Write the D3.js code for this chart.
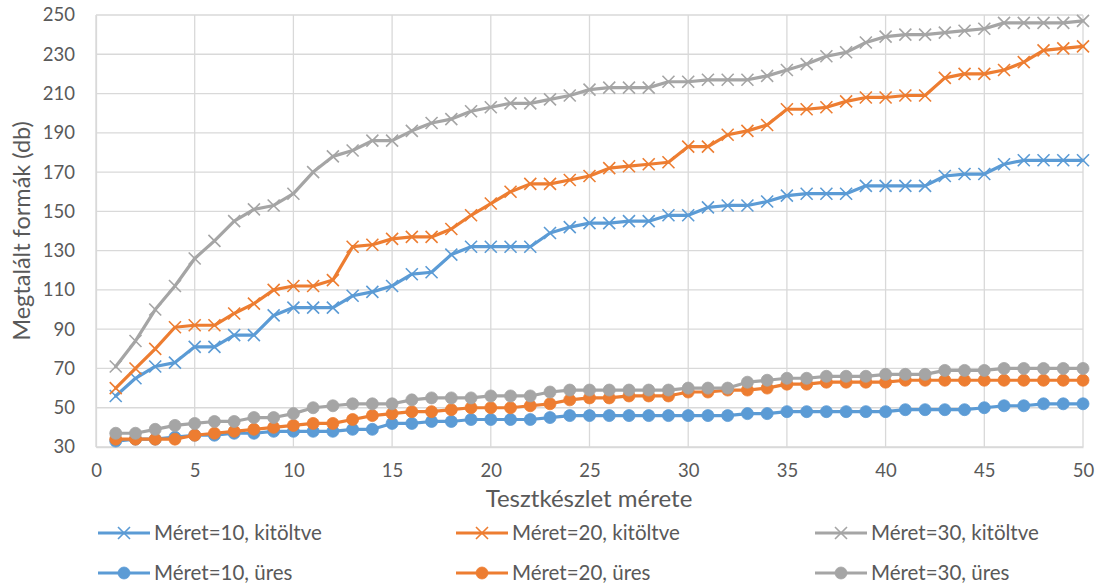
<!DOCTYPE html>
<html>
<head>
<meta charset="utf-8">
<script src="https://cdn.jsdelivr.net/npm/d3@7"></script>
<style>
html,body{margin:0;padding:0;background:#fff;}
svg{display:block;}
text{font-family:Lato,"Open Sans",sans-serif;fill:#595959;}
</style>
</head>
<body>
<svg id="chart" width="1099" height="586"></svg>
<script>
const xValues = [1,2,3,4,5,6,7,8,9,10,11,12,13,14,15,16,17,18,19,20,21,22,23,24,25,26,27,28,29,30,31,32,33,34,35,36,37,38,39,40,41,42,43,44,45,46,47,48,49,50];
const m10kitoltve = [56,65,71,73,81,81,87,87,97,101,101,101,107,109,112,118,119,128,132,132,132,132,139,142,144,144,145,145,148,148,152,153,153,155,158,159,159,159,163,163,163,163,168,169,169,174,176,176,176,176];
const m20kitoltve = [60,70,80,91,92,92,98,103,110,112,112,115,132,133,136,137,137,141,148,154,160,164,164,166,168,172,173,174,175,183,183,189,191,194,202,202,203,206,208,208,209,209,218,220,220,222,226,232,233,234];
const m30kitoltve = [71,84,100,112,126,135,145,151,153,159,170,178,181,186,186,191,195,197,201,203,205,205,207,209,212,213,213,213,216,216,217,217,217,219,222,225,229,231,236,239,240,240,241,242,243,246,246,246,246,247];
const m10ures = [33,34,34,35,36,36,37,37,38,38,38,38,39,39,42,42,43,43,44,44,44,44,45,46,46,46,46,46,46,46,46,46,47,47,48,48,48,48,48,48,49,49,49,49,50,51,51,52,52,52];
const m20ures = [34,34,34,34,36,37,38,39,40,41,42,42,44,46,47,48,48,49,50,50,50,51,52,54,55,55,56,56,56,58,58,59,59,60,62,62,63,63,63,63,64,64,64,64,64,64,64,64,64,64];
const m30ures = [37,37,39,41,42,43,43,45,45,47,50,51,52,52,52,54,55,55,55,56,56,56,58,59,59,59,59,59,59,60,60,60,63,64,65,65,66,66,66,67,67,67,69,69,69,70,70,70,70,70];
const xTicks = [0,5,10,15,20,25,30,35,40,45,50];
const yTicks = [30,50,70,90,110,130,150,170,190,210,230,250];
const seriesNames = ["Méret=10, kitöltve","Méret=20, kitöltve","Méret=30, kitöltve","Méret=10, üres","Méret=20, üres","Méret=30, üres"];
const seriesColors = ["#5B9BD5","#ED7D31","#A5A5A5","#5B9BD5","#ED7D31","#A5A5A5"];
const seriesMarkers = ["cross","cross","cross","circle","circle","circle"];
const xTitle = "Tesztkészlet mérete";
const yTitle = "Megtalált formák (db)";

(function(){
const series = [m10kitoltve,m20kitoltve,m30kitoltve,m10ures,m20ures,m30ures].map((vals,i)=>({
  name: seriesNames[i], color: seriesColors[i], marker: seriesMarkers[i],
  points: vals.map((v,j)=>({x:xValues[j], y:v}))
}));

const svg = d3.select("#chart");
const pL = 96, pR = 1083, pT = 15, pB = 447;
const x = d3.scaleLinear().domain([0,50]).range([pL,pR]);
const y = d3.scaleLinear().domain([30,250]).range([pB,pT]);

// gridlines
const grid = svg.append("g");
grid.selectAll("line.h").data(yTicks).join("line").attr("class","h")
  .attr("x1",pL).attr("x2",pR)
  .attr("y1",d=>y(d)).attr("y2",d=>y(d))
  .attr("stroke","#D9D9D9").attr("stroke-width",1.3);
grid.selectAll("line.v").data(xTicks).join("line").attr("class","v")
  .attr("y1",pT).attr("y2",pB)
  .attr("x1",d=>x(d)).attr("x2",d=>x(d))
  .attr("stroke","#D9D9D9").attr("stroke-width",1.3);

// axes
const xAxis = svg.append("g").attr("transform",`translate(0,${pB})`)
  .call(d3.axisBottom(x).tickValues(xTicks).tickSize(0).tickPadding(17));
xAxis.select(".domain").attr("stroke","#D9D9D9").attr("stroke-width",1.3);
xAxis.selectAll("text").style("font-size","18.5px").attr("fill","#595959").style("font-family","Lato");

const yAxis = svg.append("g").attr("transform",`translate(${pL},0)`)
  .call(d3.axisLeft(y).tickValues(yTicks).tickSize(0).tickPadding(21));
yAxis.select(".domain").attr("stroke","#D9D9D9").attr("stroke-width",1.3);
yAxis.selectAll("text").style("font-size","18.5px").attr("fill","#595959").style("font-family","Lato");

// titles
svg.append("text").attr("x",589).attr("y",507)
  .attr("text-anchor","middle").style("font-size","24px").text(xTitle);
svg.append("text").attr("transform",`translate(30,${(pT+pB)/2}) rotate(-90)`)
  .attr("text-anchor","middle").style("font-size","23.5px").text(yTitle);

// lines & markers
const line = d3.line().x(d=>x(d.x)).y(d=>y(d.y));
const crossPath = (s)=>`M${-s},${-s}L${s},${s}M${-s},${s}L${s},${-s}`;

function drawMarker(g, type, color){
  if(type==="cross"){
    g.append("path").attr("d",crossPath(6)).attr("stroke",color).attr("stroke-width",1.6).attr("fill","none");
  } else {
    g.append("circle").attr("r",6).attr("fill",color).attr("stroke",color).attr("stroke-width",0.8);
  }
}

const plot = svg.append("g");
series.forEach(s=>{
  const g = plot.append("g");
  g.append("path").datum(s.points).attr("d",line)
    .attr("fill","none").attr("stroke",s.color).attr("stroke-width",3.2)
    .attr("stroke-linejoin","round").attr("stroke-linecap","round");
  s.points.forEach(p=>{
    const mg = g.append("g").attr("transform",`translate(${x(p.x)},${y(p.y)})`);
    drawMarker(mg, s.marker, s.color);
  });
});

// legend
const legCols = [98,456,815];
const legRows = [533,573];
series.forEach((s,i)=>{
  const lx = legCols[i%3], ly = legRows[Math.floor(i/3)];
  const g = svg.append("g").attr("transform",`translate(${lx},${ly})`);
  g.append("line").attr("x1",0).attr("x2",52).attr("y1",0).attr("y2",0)
    .attr("stroke",s.color).attr("stroke-width",3.2);
  const mg = g.append("g").attr("transform","translate(26,0)");
  drawMarker(mg, s.marker, s.color);
  g.append("text").attr("x",56).attr("y",0).attr("dy","0.35em")
    .style("font-size","20.5px").text(s.name);
});
})();
</script>
</body>
</html>
